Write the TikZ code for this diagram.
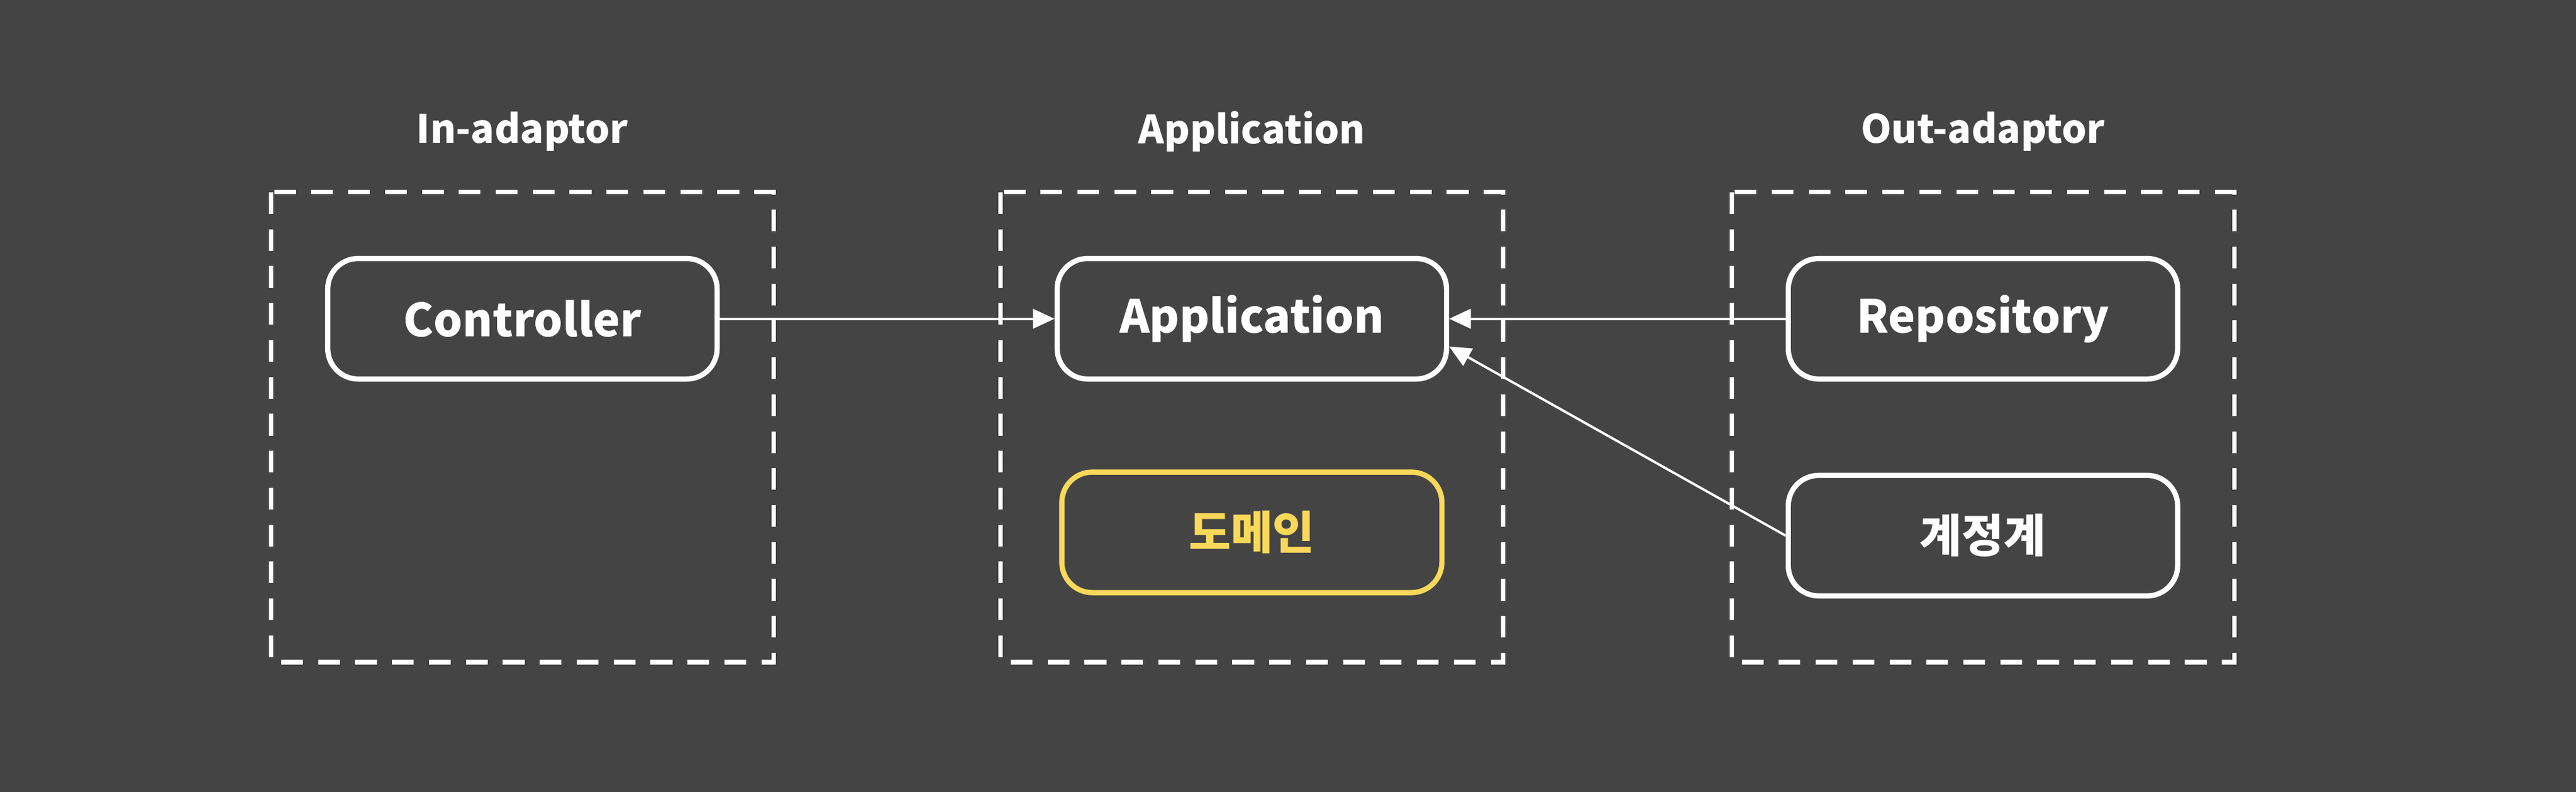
\documentclass[tikz,border=0pt]{standalone}
\usepackage{fontspec}
\setmainfont{Noto Sans CJK KR}
\usetikzlibrary{arrows.meta}
\definecolor{bgcol}{HTML}{444444}
\definecolor{domcol}{HTML}{F9D85A}
\tikzset{
  layer/.style={draw=white, line width=2pt, dash pattern=on 10pt off 7pt},
  comp/.style={draw=white, line width=2.4pt, rounded corners=14pt, minimum width=6.3cm, minimum height=1.95cm, text=white, font=\bfseries\fontsize{21}{21}\selectfont},
  title/.style={text=white, font=\bfseries\fontsize{18}{18}\selectfont},
  flow/.style={draw=white, line width=1.1pt, -{Triangle[length=10pt,width=9pt]}}
}
\begin{document}
\begin{tikzpicture}[x=0.026575cm, y=-0.026575cm]
  \fill [bgcol] (0,0) rectangle (1568,482);
  \useasboundingbox (0,0) rectangle (1568,482);
  % layers
  \draw [layer] (165,117) rectangle (471,403);
  \draw [layer] (609,117) rectangle (915,403);
  \draw [layer] (1054,117) rectangle (1360,403);
  \node [title] (tin) at (318,80) {In-adaptor};
  \node [title] (tapp) at (762,80) {Application};
  \node [title] (tout) at (1207,80) {Out-adaptor};
  % components
  \node [comp] (ctrl) at (318,194) {Controller};
  \node [comp] (app) at (762,194) {Application};
  \node [comp] (repo) at (1207,194) {Repository};
  \node [comp, draw=domcol, text=domcol, minimum width=6.15cm] (dom) at (762,324) {도메인};
  \node [comp] (acct) at (1207,326) {계정계};
  % flows
  \draw [flow] (ctrl.east) -- (app.west);
  \draw [flow] (repo.west) -- (app.east);
  \draw [flow] (acct.west) -- ([yshift=-0.45cm]app.east);
\end{tikzpicture}
\end{document}
